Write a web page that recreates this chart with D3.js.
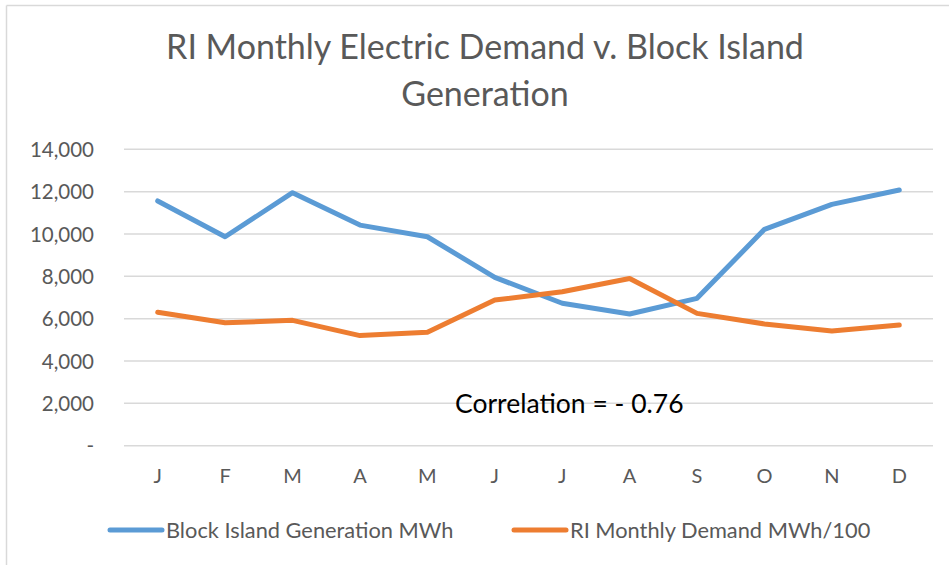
<!DOCTYPE html>
<html>
<head>
<meta charset="utf-8">
<script src="https://cdn.jsdelivr.net/npm/d3@7"></script>
<style>
  body { margin: 0; background: #fff; }
  svg { display: block; }
</style>
</head>
<body>
<div class="contents"></div>
<script>
var width = 949;
var height = 565;

// data
var months = ["J","F","M","A","M","J","J","A","S","O","N","D"];
var generation = [11560, 9870, 11950, 10420, 9870, 7950, 6730, 6220, 6960, 10220, 11400, 12080];
var demand = [6300, 5810, 5920, 5200, 5360, 6880, 7270, 7900, 6250, 5750, 5420, 5700];
var yTicks = [0, 2000, 4000, 6000, 8000, 10000, 12000, 14000];
var seriesNames = ["Block Island Generation MWh", "RI Monthly Demand MWh/100"];
var colors = ["#5B9BD5", "#ED7D31"];

var font = "Lato, 'Open Sans', sans-serif";

var svg = d3.select(".contents").append("svg")
    .attr("width", width)
    .attr("height", height);

// chart frame (only left and top edges show)
svg.append("line").attr("x1", 6.5).attr("y1", 5.5).attr("x2", width).attr("y2", 5.5)
    .style("stroke", "#D9D9D9").style("stroke-width", 1.5);
svg.append("line").attr("x1", 6.5).attr("y1", 5.5).attr("x2", 6.5).attr("y2", height)
    .style("stroke", "#D9D9D9").style("stroke-width", 1.5);

var x = d3.scaleBand()
    .domain(d3.range(months.length))
    .range([124, 933]);

var y = d3.scaleLinear()
    .domain([0, 14000])
    .range([445.7, 149.3]);

// gridlines
svg.selectAll("line.grid")
    .data(yTicks)
    .enter()
    .append("line")
    .attr("class", "grid")
    .attr("x1", 124)
    .attr("x2", 933)
    .attr("y1", function(d){ return y(d); })
    .attr("y2", function(d){ return y(d); })
    .style("stroke", "#D9D9D9")
    .style("stroke-width", 1.5);

// y axis labels
var yAxis = d3.axisLeft(y)
    .tickValues(yTicks)
    .tickSize(0)
    .tickPadding(0)
    .tickFormat(function(d){ return d === 0 ? "-" : d3.format(",")(d); });

var gy = svg.append("g").attr("transform", "translate(94,0)").call(yAxis);
gy.select(".domain").remove();
gy.selectAll("text")
    .style("font-family", font)
    .style("font-size", "20.5px")
    .style("fill", "#595959")
    .attr("dy", "0.35em");

// x axis labels
var xAxis = d3.axisBottom(x)
    .tickSize(0)
    .tickPadding(0)
    .tickFormat(function(i){ return months[i]; });

var gx = svg.append("g").attr("transform", "translate(0,469)").call(xAxis);
gx.select(".domain").remove();
gx.selectAll("text")
    .style("font-family", font)
    .style("font-size", "20px")
    .style("fill", "#595959");

// lines
var line = d3.line()
    .x(function(d, i){ return x(i) + x.bandwidth() / 2; })
    .y(function(d){ return y(d); });

[generation, demand].forEach(function(s, k) {
  svg.append("path")
      .datum(s)
      .attr("d", line)
      .style("fill", "none")
      .style("stroke", colors[k])
      .style("stroke-width", 5)
      .style("stroke-linejoin", "round")
      .style("stroke-linecap", "round");
});

// title
var title = svg.append("text")
    .attr("text-anchor", "middle")
    .style("font-family", font)
    .style("font-size", "34px")
    .style("fill", "#595959");
title.append("tspan").attr("x", 485).attr("y", 59).text("RI Monthly Electric Demand v. Block Island");
title.append("tspan").attr("x", 485).attr("y", 106).text("Generation");

// annotation
svg.append("text")
    .attr("x", 455)
    .attr("y", 413)
    .style("font-family", font)
    .style("font-size", "26.5px")
    .style("fill", "#000")
    .text("Correlation = - 0.76");

// legend
var legendX = [108, 512];
var legend = svg.selectAll("g.legend")
    .data(seriesNames)
    .enter()
    .append("g")
    .attr("class", "legend")
    .attr("transform", function(d, i){ return "translate(" + legendX[i] + ",530)"; });

legend.append("line")
    .attr("x1", 2).attr("x2", 54)
    .attr("y1", 0).attr("y2", 0)
    .style("stroke", function(d, i){ return colors[i]; })
    .style("stroke-width", 5)
    .style("stroke-linecap", "round");

legend.append("text")
    .attr("x", 58)
    .attr("dy", "0.35em")
    .style("font-family", font)
    .style("font-size", "21.8px")
    .style("fill", "#595959")
    .text(function(d){ return d; });
</script>
</body>
</html>
